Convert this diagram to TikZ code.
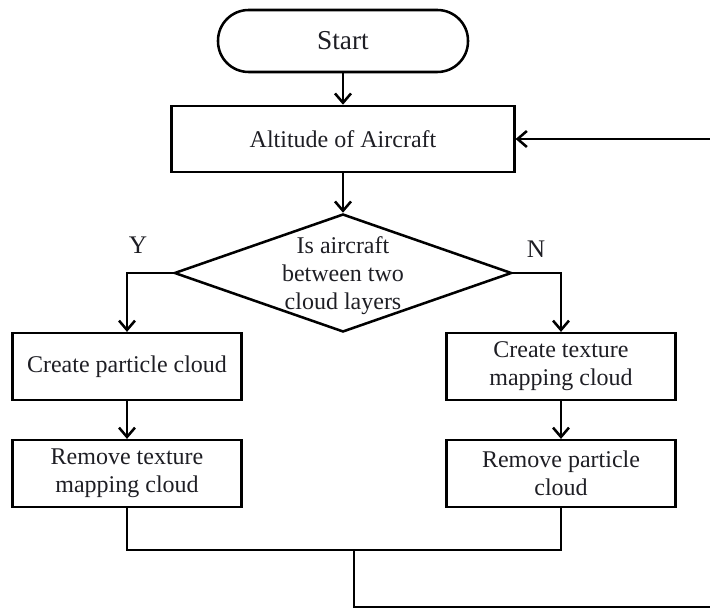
\documentclass[tikz,border=0pt]{standalone}
\usepackage{fontspec}
\setmainfont{Liberation Serif}
\usepackage{tikz}
\usetikzlibrary{arrows.meta,positioning,calc,shapes.geometric}
\definecolor{Ink}{HTML}{1E1E24}

\begin{document}
\begin{tikzpicture}[x=0.75pt,y=-0.75pt,
  box/.style={draw,line width=1.9pt,minimum width=172pt,minimum height=50pt,align=center,
    font=\fontsize{18}{21}\selectfont,text=Ink},
  lbl/.style={font=\fontsize{19}{22}\selectfont,text=Ink},
  link/.style={line width=1.9pt,-{Straight Barb[length=7pt,width=12pt,line width=1.9pt]}},
  wire/.style={line width=1.9pt}]
  \useasboundingbox (0,0) rectangle (710,609);
  \clip (0,0) rectangle (710,609);
  % top of the chart
  \node[box,rounded corners=23pt,minimum width=187.5pt,minimum height=46.5pt,
    font=\fontsize{20.5}{24}\selectfont] (start) at (343,41) {Start};
  \node[box,minimum width=257pt,minimum height=49.5pt] (alt) at (343,139) {Altitude of Aircraft};
  \node[draw,diamond,line width=1.9pt,minimum width=253pt,minimum height=88.5pt,inner sep=0pt,
    label={[align=center,font=\fontsize{18}{21}\selectfont,text=Ink,yshift=-2pt]center:Is aircraft\\between two\\cloud layers}]
    (dec) at (343,273) {};
  \node[lbl] (yes) at (138,245) {Y};
  \node[lbl] (no) at (536,249) {N};
  % the two branches
  \node[box] (mkpart) at (127,366.5) {Create particle cloud};
  \node[box] (rmtex) at (127,473.5) {Remove texture\\mapping cloud};
  \node[box] (mktex) at (561,366.5) {Create texture\\mapping cloud};
  \node[box] (rmpart) at (561,473.5) {Remove particle\\cloud};
  \coordinate (merge) at (354,550);
  \coordinate (loop) at (760,607);
  \draw[link] (start) -- (alt);
  \draw[link] (alt) -- (dec);
  \draw[link] (dec.west) -| (mkpart.north);
  \draw[link] (dec.east) -| (mktex.north);
  \draw[link] (mkpart) -- (rmtex);
  \draw[link] (mktex) -- (rmpart);
  \draw[wire] (rmtex.south) |- (merge) -| (rmpart.south);
  \draw[link] (merge) |- (loop) |- (alt.east);
\end{tikzpicture}
\end{document}
